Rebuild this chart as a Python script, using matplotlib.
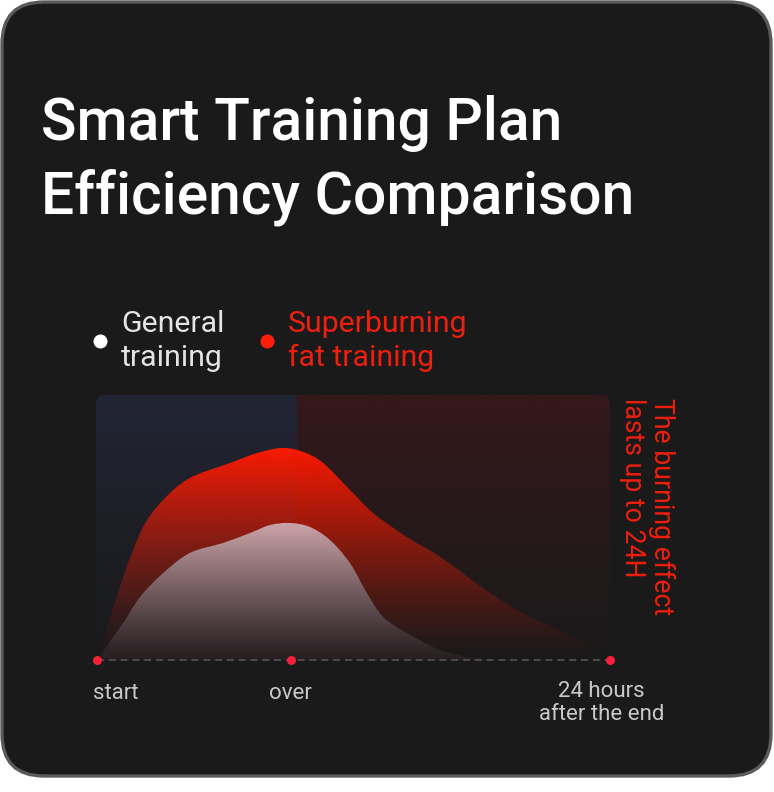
import numpy as np
import matplotlib
matplotlib.use("Agg")
import matplotlib.pyplot as plt
from matplotlib.path import Path
from matplotlib.patches import PathPatch, FancyBboxPatch

plt.rcParams['font.family'] = ['Roboto', 'DejaVu Sans']
plt.rcParams['lines.scale_dashes'] = False

# ---------------- data ----------------
title_lines = ["Smart Training Plan", "Efficiency Comparison"]
series_names = [["General", "training"], ["Superburning", "fat training"]]
side_note = ["The burning effect", "lasts up to 24H"]

time_labels = ["start", "over", "24 hours\nafter the end"]
time_pos = [0.0, 37.8, 100.0]

superburn_x = [0.0, 5.1, 9.0, 12.9, 18.1, 25.9, 31.2, 36.1, 40.2, 44.1, 49.3,
               53.8, 60.4, 66.9, 76.6, 83.0, 92.8, 100.0]
superburn_y = [0.0, 31.3, 50.2, 60.4, 68.7, 74.3, 78.1, 80.0, 78.5, 74.3, 64.2,
               55.5, 46.4, 38.9, 25.3, 17.7, 8.7, 0.0]

general_x = [0.0, 5.1, 8.4, 12.9, 18.1, 24.6, 29.8, 33.7, 37.6, 41.5, 45.4,
             49.3, 52.6, 55.8, 60.4, 66.9, 73.3, 78.6]
general_y = [0.0, 14.0, 23.8, 32.8, 40.4, 44.2, 47.9, 50.9, 51.7, 50.2, 45.3,
             36.6, 25.3, 16.2, 10.2, 3.8, 0.8, 0.0]

# ---------------- figure ----------------
W, H = 774, 792
fig = plt.figure(figsize=(W / 100, H / 100), dpi=100)
fig.patch.set_facecolor('white')

bg = fig.add_axes([0, 0, 1, 1])
bg.set_xlim(0, W)
bg.set_ylim(H, 0)
bg.axis('off')

BG = '#1a1a1a'
card = FancyBboxPatch((2, 2), 769, 774, boxstyle="round,pad=0,rounding_size=42",
                      facecolor=BG, edgecolor='#5a5a5a', linewidth=2.4, zorder=0)
bg.add_patch(card)

# panels (gradient backgrounds)
def vgrad(top, bottom, n=256):
    t = np.linspace(0, 1, n)[:, None] ** 0.85
    top = np.array(top) / 255.0
    bottom = np.array(bottom) / 255.0
    arr = top[None, :] * (1 - t) + bottom[None, :] * t
    return np.repeat(arr[:, None, :], 2, axis=1)

px0, px1, pxs = 96, 610, 297
py0, py1 = 395, 660
clip_panel = FancyBboxPatch((px0, py0), px1 - px0, py1 - py0 + 20,
                            boxstyle="round,pad=0,rounding_size=8",
                            facecolor='none', edgecolor='none', transform=bg.transData)
bg.add_patch(clip_panel)
im1 = bg.imshow(vgrad((34, 37, 54), (26, 26, 26)), extent=[px0, pxs, py1, py0],
                origin='upper', aspect='auto', zorder=1, interpolation='bilinear')
im2 = bg.imshow(vgrad((54, 24, 26), (26, 26, 26)), extent=[pxs, px1, py1, py0],
                origin='upper', aspect='auto', zorder=1, interpolation='bilinear')
im1.set_clip_path(clip_panel)
im2.set_clip_path(clip_panel)
bg.set_xlim(0, W)
bg.set_ylim(H, 0)

# title
for i, line in enumerate(title_lines):
    bg.text(41, 140 + i * 73, line, color='white', fontsize=42.3, fontweight='medium',
            ha='left', va='baseline', zorder=5)

# legend
leg_colors = ['#ffffff', '#ff1e0a']
leg_text_colors = ['#e4e4e4', '#ee1f0c']
leg_dot_x = [100, 267]
for k in range(2):
    bg.scatter([leg_dot_x[k]], [341], s=(14 * 0.72) ** 2, color=leg_colors[k],
               zorder=5, linewidths=0)
    for j, line in enumerate(series_names[k]):
        bg.text(leg_dot_x[k] + 21, 332 + j * 34, line, color=leg_text_colors[k],
                fontsize=21.8, ha='left', va='baseline', zorder=5)

# side note (vertical)
for j, (line, bx) in enumerate(zip(side_note, [654, 625])):
    bg.text(bx, 398, line, color='#ee1f0c', fontsize=19.2, rotation=270,
            rotation_mode='anchor', ha='left', va='baseline', zorder=5)

# ---------------- chart axes ----------------
ax = fig.add_axes([97 / W, (H - 660) / H, 513 / W, 265 / H])
ax.set_xlim(0, 100)
ax.set_ylim(0, 100)
ax.axis('off')
ax.patch.set_alpha(0)


def smooth_area_path(xs, ys):
    pts = np.column_stack([xs, ys]).astype(float)
    n = len(pts)
    verts = [pts[0]]
    codes = [Path.MOVETO]
    for i in range(n - 1):
        p0 = pts[i - 1] if i > 0 else pts[i]
        p1 = pts[i]
        p2 = pts[i + 1]
        p3 = pts[i + 2] if i + 2 < n else pts[i + 1]
        c1 = p1 + (p2 - p0) / 6.0
        c2 = p2 - (p3 - p1) / 6.0
        verts += [c1, c2, p2]
        codes += [Path.CURVE4] * 3
    verts += [pts[0], pts[0]]
    codes += [Path.LINETO, Path.CLOSEPOLY]
    return Path(np.array(verts), codes)


yy = np.linspace(0, 100, 400)[:, None]

# superburning fat training: red with alpha gradient
red_path = smooth_area_path(superburn_x, superburn_y)
red_patch = PathPatch(red_path, facecolor='none', edgecolor='none', transform=ax.transData)
ax.add_patch(red_patch)
alpha = np.clip(yy / max(superburn_y), 0, 1) ** 1.3 * 0.98
red_img = np.zeros((400, 2, 4))
red_img[..., 0] = 1.0
red_img[..., 1] = 26 / 255
red_img[..., 2] = 0.0
red_img[..., 3] = np.repeat(alpha, 2, axis=1)
imr = ax.imshow(red_img, extent=[0, 100, 0, 100], origin='lower', aspect='auto',
                zorder=2, interpolation='bilinear')
imr.set_clip_path(red_patch)

# general training: pinkish-white gradient
wh_path = smooth_area_path(general_x, general_y)
wh_patch = PathPatch(wh_path, facecolor='none', edgecolor='none', transform=ax.transData)
ax.add_patch(wh_patch)
t = np.clip(yy / max(general_y), 0, 1) ** 1.1
top_c = np.array([203, 163, 168]) / 255
bot_c = np.array([38, 30, 32]) / 255
wimg = bot_c[None, None, :] * (1 - t[..., None]) + top_c[None, None, :] * t[..., None]
wimg = np.repeat(wimg, 2, axis=1)
imw = ax.imshow(wimg, extent=[0, 100, 0, 100], origin='lower', aspect='auto',
                zorder=3, interpolation='bilinear')
imw.set_clip_path(wh_patch)
ax.set_xlim(0, 100)
ax.set_ylim(0, 100)

# baseline and markers
ax.plot([time_pos[0], time_pos[-1]], [0, 0], color='#505050', lw=1.3,
        dashes=(5, 3.5), zorder=4, clip_on=False)
ax.scatter(time_pos, [0] * len(time_pos), s=(9 * 0.72) ** 2, color='#f5213a',
           zorder=6, clip_on=False, linewidths=0)

# time labels
lab_x = [-0.8, 37.8, 98.4]
lab_ha = ['left', 'center', 'center']
lab_y = [-12.5, -12.5, -16.2]
for lbl, x, ha, y in zip(time_labels, lab_x, lab_ha, lab_y):
    ax.text(x, y, lbl, color='#c8c8c8', fontsize=16, ha=ha, va='center',
            linespacing=1.15, clip_on=False, zorder=6)

fig.savefig('out.png', dpi=100, facecolor='white')
